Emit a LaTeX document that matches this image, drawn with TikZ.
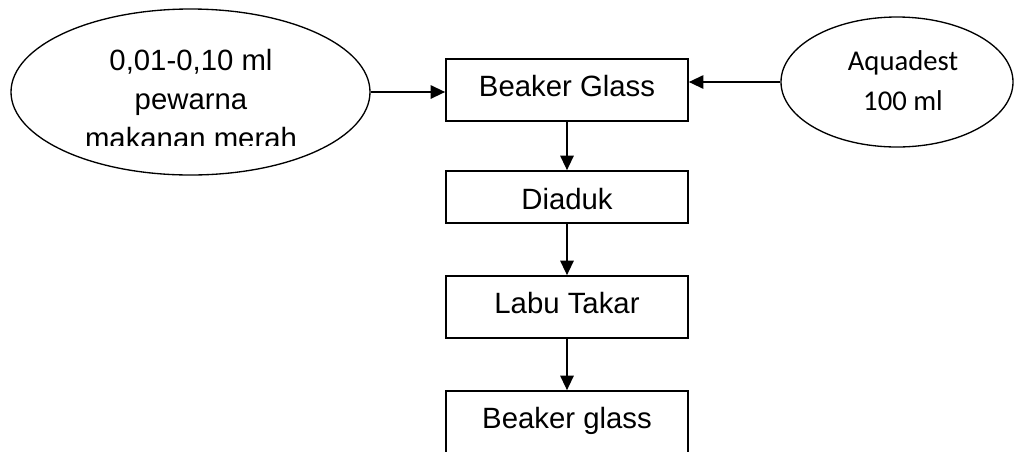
\documentclass[tikz,border=0pt]{standalone}
\usepackage{fontspec}
\setmainfont{Liberation Sans}
\newfontfamily\calibrifont{Carlito}
\usetikzlibrary{arrows.meta,shapes.geometric}
\begin{document}
\begin{tikzpicture}[x=0.75pt,y=-0.75pt,
  stepbox/.style={draw, line width=1.2pt, inner sep=0pt,
    minimum width=181.5pt, font=\fontsize{22}{26}\selectfont},
  tallbox/.style={stepbox, minimum height=46.5pt, text height=15.75pt, text depth=6.75pt},
  shortbox/.style={stepbox, minimum height=39pt, text height=18pt, text depth=0pt},
  source/.style={draw, ellipse, line width=1pt, inner sep=0pt},
  flow/.style={line width=1.6pt, -{Triangle[length=11pt,width=10pt]}}]

% page frame
\clip (0,0) rectangle (1014,451);

% inputs
\node[source, minimum width=269.25pt, minimum height=124.5pt] (pewarna) at (190.5,92) {};
\node[source, minimum width=174pt, minimum height=97.5pt] (aquadest) at (897,82) {};

% the label of the left input is cut off along its last line
\begin{scope}
  \clip (0,0) rectangle (1014,145);
  \node[align=center, font=\fontsize{22}{29.25}\selectfont, inner sep=0pt] (pewarnatext) at (191,99.5)
    {0,01-0,10 ml\\pewarna\\makanan merah};
\end{scope}
\node[align=center, font=\calibrifont\fontsize{21.5}{30}\selectfont, inner sep=0pt] (aquadesttext) at (903,81)
  {Aquadest\\100 ml};

% process steps
\node[tallbox] (beaker) at (567,90) {Beaker Glass};
\node[shortbox] (diaduk) at (567,197) {Diaduk};
\node[tallbox] (labu) at (567,307) {Labu Takar};
\node[tallbox] (beaker2) at (567,422) {Beaker glass};

% connectors
\draw[flow] (pewarna.east) -- (pewarna.east -| beaker.west);
\draw[flow] (aquadest.west) -- (aquadest.west -| beaker.east);
\draw[flow] (beaker.south) -- (diaduk.north);
\draw[flow] (diaduk.south) -- (labu.north);
\draw[flow] (labu.south) -- (beaker2.north);
\end{tikzpicture}
\end{document}
